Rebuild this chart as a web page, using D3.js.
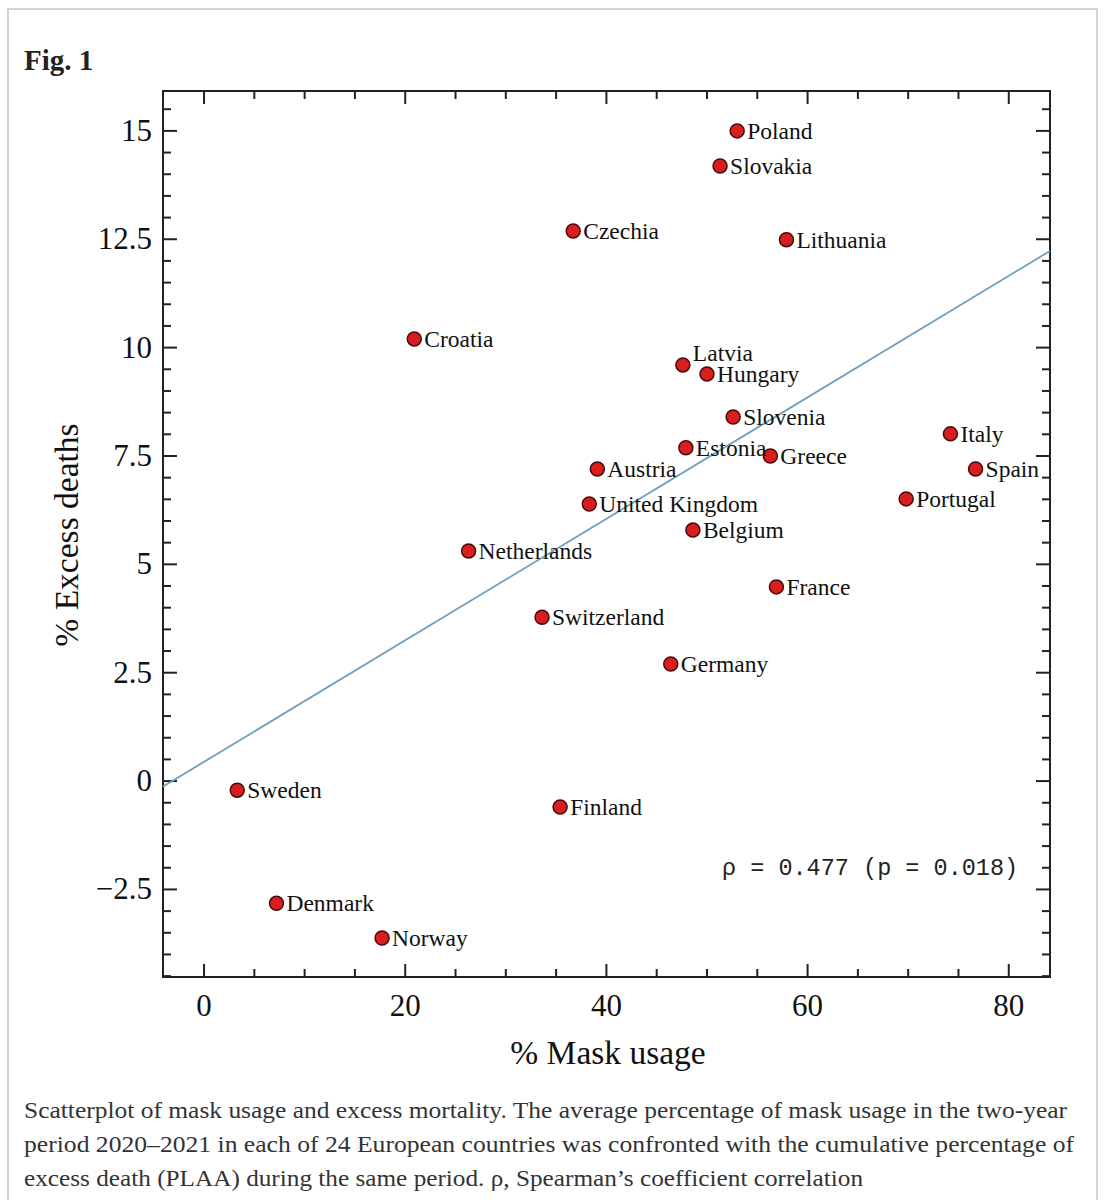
<!DOCTYPE html>
<html>
<head>
<meta charset="utf-8">
<script src="https://cdn.jsdelivr.net/npm/d3@7"></script>
<style>
  html, body { margin: 0; padding: 0; background: #fff; }
  svg { display: block; }
</style>
</head>
<body>
<svg id="chart" width="1104" height="1200"></svg>
<script>
// ---- Data ----
const countries = ["Poland","Slovakia","Czechia","Lithuania","Croatia","Latvia","Hungary","Slovenia","Italy","Estonia","Greece","Austria","Spain","Portugal","United Kingdom","Belgium","Netherlands","France","Switzerland","Germany","Sweden","Finland","Denmark","Norway"];
const maskUsage = [53.0,51.3,36.7,57.9,20.9,47.6,50.0,52.6,74.2,47.9,56.3,39.1,76.7,69.8,38.3,48.6,26.3,56.9,33.6,46.4,3.3,35.4,7.2,17.7];
const excessDeaths = [15.0,14.19,12.69,12.49,10.2,9.6,9.39,8.4,8.01,7.69,7.5,7.2,7.2,6.51,6.39,5.79,5.31,4.48,3.78,2.7,-0.21,-0.6,-2.82,-3.62];
const xTicks = [0,20,40,60,80];
const yTicks = [-2.5,0,2.5,5,7.5,10,12.5,15];
const yTickLabels = ["\u22122.5","0","2.5","5","7.5","10","12.5","15"];
const fitLine = [[-4.1, -0.13],[84.1, 12.23]];
const statText = "\u03c1 = 0.477 (p = 0.018)";
const captionLines = [
  "Scatterplot of mask usage and excess mortality. The average percentage of mask usage in the two-year",
  "period 2020\u20132021 in each of 24 European countries was confronted with the cumulative percentage of",
  "excess death (PLAA) during the same period. \u03c1, Spearman\u2019s coefficient correlation"
];
const captionWidths = [1043, 1050, 839];

// ---- Layout ----
const svg = d3.select("#chart");
const L = 163, R = 1050, T = 91, B = 977;
const x = d3.scaleLinear().domain([-4.08, 84.1]).range([L, R]);
const y = d3.scaleLinear().domain([-4.52, 15.92]).range([B, T]);
const serif = "'Liberation Serif', 'Times New Roman', serif";

// page frame
svg.append("rect").attr("x", 8).attr("y", 9).attr("width", 1089).attr("height", 1200)
  .attr("fill", "none").attr("stroke", "#d4d4d4").attr("stroke-width", 2);

svg.append("text").attr("x", 24).attr("y", 70).text("Fig. 1")
  .attr("font-family", serif).attr("font-weight", "bold").attr("font-size", 29).attr("fill", "#222");

// ticks
const g = svg.append("g");
const xMinor = d3.range(0, 85, 5);
const yMinor = d3.range(-4.5, 16, 0.5);
const isMajorX = v => Math.abs(v % 20) < 1e-6;
const isMajorY = v => Math.abs(Math.round(v / 2.5) * 2.5 - v) < 1e-6;

xMinor.forEach(v => {
  const len = isMajorX(v) ? 13 : 8;
  g.append("line").attr("x1", x(v)).attr("x2", x(v)).attr("y1", B).attr("y2", B - len)
    .attr("stroke", "#222").attr("stroke-width", 2);
  g.append("line").attr("x1", x(v)).attr("x2", x(v)).attr("y1", T).attr("y2", T + len)
    .attr("stroke", "#222").attr("stroke-width", 2);
});
yMinor.forEach(v => {
  const len = isMajorY(v) ? 14 : 8;
  g.append("line").attr("y1", y(v)).attr("y2", y(v)).attr("x1", L).attr("x2", L + len)
    .attr("stroke", "#222").attr("stroke-width", 2);
  g.append("line").attr("y1", y(v)).attr("y2", y(v)).attr("x1", R).attr("x2", R - len)
    .attr("stroke", "#222").attr("stroke-width", 2);
});

// frame
svg.append("rect").attr("x", L).attr("y", T).attr("width", R - L).attr("height", B - T)
  .attr("fill", "none").attr("stroke", "#222").attr("stroke-width", 2);

// tick labels
svg.append("g").selectAll("text").data(xTicks).join("text")
  .attr("x", d => x(d)).attr("y", 1016).attr("text-anchor", "middle")
  .attr("font-family", serif).attr("font-size", 31).attr("fill", "#111").text(d => d);
svg.append("g").selectAll("text").data(yTicks).join("text")
  .attr("x", 152).attr("y", d => y(d) + 10).attr("text-anchor", "end")
  .attr("font-family", serif).attr("font-size", 31).attr("fill", "#111")
  .text((d, i) => yTickLabels[i]);

// axis titles
svg.append("text").attr("x", 608).attr("y", 1064).attr("text-anchor", "middle")
  .attr("font-family", serif).attr("font-size", 33.5).attr("fill", "#111").text("% Mask usage");
svg.append("text").attr("transform", "translate(78,535) rotate(-90)").attr("text-anchor", "middle")
  .attr("font-family", serif).attr("font-size", 33.5).attr("fill", "#111").text("% Excess deaths");

// regression line
svg.append("line")
  .attr("x1", x(fitLine[0][0])).attr("y1", y(fitLine[0][1]))
  .attr("x2", x(fitLine[1][0])).attr("y2", y(fitLine[1][1]))
  .attr("stroke", "#6f9fbb").attr("stroke-width", 1.8);

// points
const pts = countries.map((c, i) => ({ c, xv: maskUsage[i], yv: excessDeaths[i] }));
svg.append("g").selectAll("circle").data(pts).join("circle")
  .attr("cx", d => x(d.xv)).attr("cy", d => y(d.yv)).attr("r", 7)
  .attr("fill", "#d81e1e").attr("stroke", "#4a0a0a").attr("stroke-width", 1.5);

svg.append("g").selectAll("text").data(pts).join("text")
  .attr("x", d => x(d.xv) + 10)
  .attr("y", d => y(d.yv) + 8 + (d.c === "Latvia" ? -12 : 0))
  .attr("font-family", serif).attr("font-size", 23.5).attr("fill", "#111").text(d => d.c);

// stat text
svg.append("text").attr("x", 722).attr("y", 875)
  .attr("font-family", "'Liberation Mono', 'Courier New', monospace").attr("font-size", 23.5)
  .attr("fill", "#222").text(statText);

// caption
svg.append("g").selectAll("text").data(captionLines).join("text")
  .attr("x", 24).attr("y", (d, i) => 1118 + i * 34)
  .attr("textLength", (d, i) => captionWidths[i]).attr("lengthAdjust", "spacingAndGlyphs")
  .attr("font-family", serif).attr("font-size", 23.5).attr("fill", "#333").text(d => d);
</script>
</body>
</html>
